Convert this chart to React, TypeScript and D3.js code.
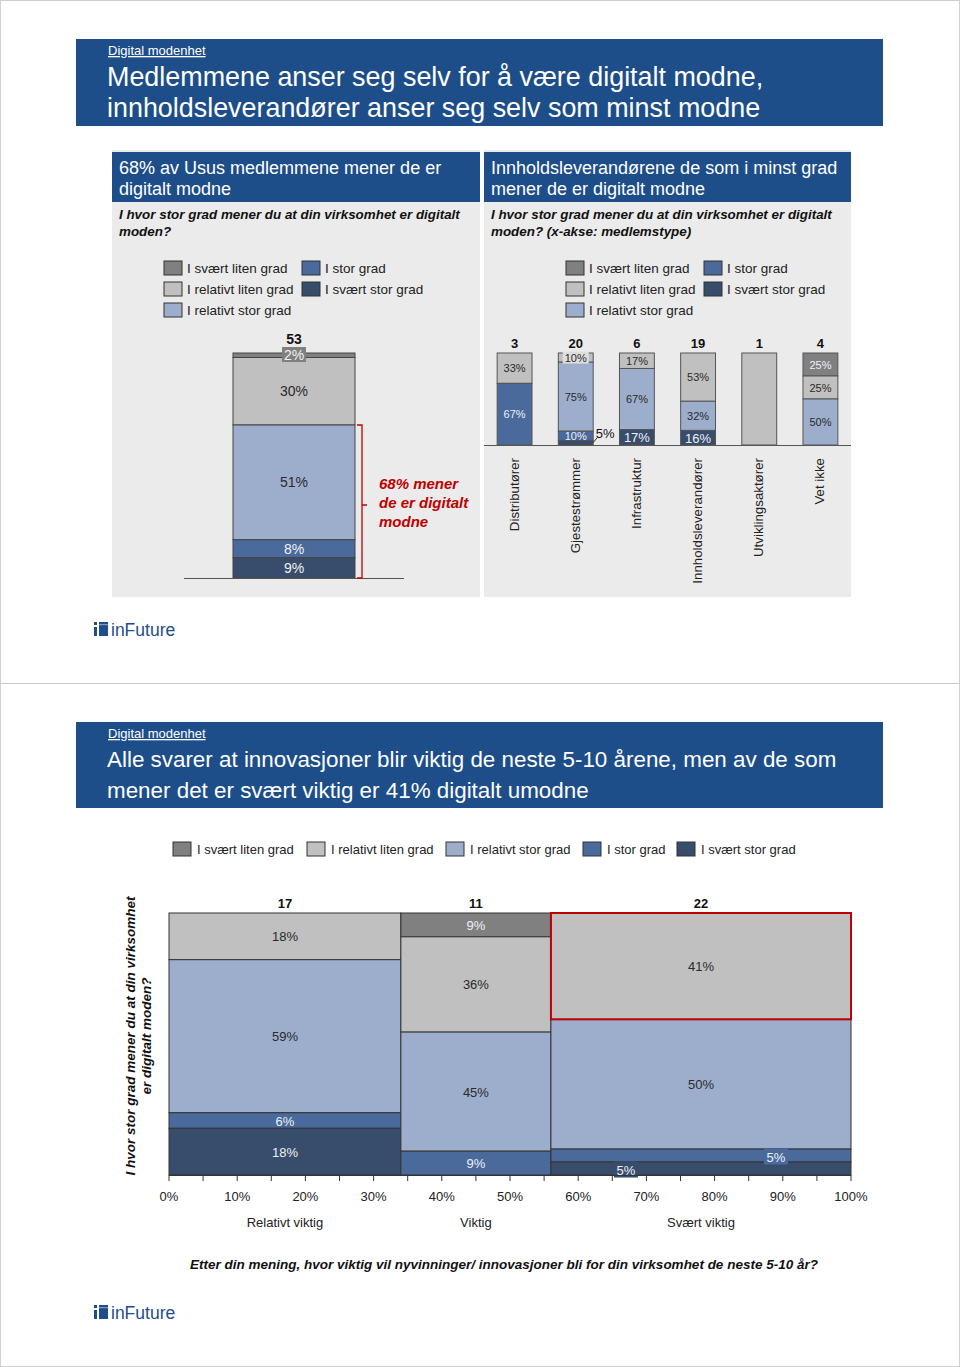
import React from "react";
import * as d3 from "d3";

// ---------- DATA ----------
const levels = ["I svært liten grad", "I relativt liten grad", "I relativt stor grad", "I stor grad", "I svært stor grad"];
const levelColors = ["#808080", "#c0c0c0", "#9daecd", "#4a6a9c", "#384c6c"];

const totalN = 53;
const totalShares = [2, 30, 51, 8, 9];

const memberTypes = ["Distributører", "Gjestestrømmer", "Infrastruktur", "Innholdsleverandører", "Utviklingsaktører", "Vet ikke"];
const memberN = [3, 20, 6, 19, 1, 4];
const memberShares = [
  [0, 33, 0, 67, 0],
  [0, 10, 75, 10, 5],
  [0, 17, 67, 0, 17],
  [0, 53, 32, 0, 16],
  [0, 100, 0, 0, 0],
  [25, 25, 50, 0, 0],
];

const importance = ["Relativt viktig", "Viktig", "Svært viktig"];
const importanceN = [17, 11, 22];
const importanceShares = [
  [0, 18, 59, 6, 18],
  [9, 36, 45, 9, 0],
  [0, 41, 50, 5, 5],
];
const xTicks = [0, 10, 20, 30, 40, 50, 60, 70, 80, 90, 100];

// ---------- STYLE ----------
const FONT = "'Liberation Sans', Arial, Helvetica, sans-serif";
const BLUE = "#1d4e89";
const PANEL = "#ebebeb";
const RED = "#c00000";
const DARK_TEXT = "#2a2a2a";
const lightText = (i: number) => i === 0 || i === 3 || i === 4;

function stackShares(shares: number[]) {
  const sum = d3.sum(shares);
  const out: { i: number; v: number; y0: number; y1: number }[] = [];
  let acc = 0;
  shares.forEach((v, i) => {
    const f = v / sum;
    out.push({ i, v, y0: acc, y1: acc + f });
    acc += f;
  });
  return out;
}

function Logo({ x, y }: { x: number; y: number }) {
  return (
    <g>
      <rect x={x} y={y} width={3} height={3} fill={BLUE} />
      <rect x={x} y={y + 5} width={3} height={9} fill={BLUE} />
      <rect x={x + 5} y={y} width={9} height={14} fill={BLUE} />
      <rect x={x + 5} y={y + 2} width={9} height={1.2} fill="#7f9cc4" />
      <text x={x + 17} y={y + 14} fontFamily={FONT} fontSize={17.5} fill={BLUE}>inFuture</text>
    </g>
  );
}

function Legend2Col({ x1, x2, y }: { x1: number; x2: number; y: number }) {
  const pos = [
    [x1, 0], [x1, 1], [x1, 2], [x2, 0], [x2, 1],
  ];
  return (
    <g>
      {levels.map((l, i) => (
        <g key={l}>
          <rect x={pos[i][0]} y={y + pos[i][1] * 21} width={18} height={14} fill={levelColors[i]} stroke="#333" strokeWidth={1} />
          <text x={pos[i][0] + 23} y={y + pos[i][1] * 21 + 12} fontFamily={FONT} fontSize={13.5} fill="#222">{l}</text>
        </g>
      ))}
    </g>
  );
}

function PanelHeader({ x, w, lines, q }: { x: number; w: number; lines: string[]; q: string[] }) {
  return (
    <g>
      <rect x={x} y={150} width={w} height={447} fill={PANEL} />
      <rect x={x} y={152} width={w} height={50} fill={BLUE} />
      {lines.map((t, k) => (
        <text key={k} x={x + 7} y={174 + k * 21} fontFamily={FONT} fontSize={18} fill="#fff">{t}</text>
      ))}
      {q.map((t, k) => (
        <text key={k} x={x + 7} y={219 + k * 16.5} fontFamily={FONT} fontSize={13.4} fontWeight="bold" fontStyle="italic" fill="#111">{t}</text>
      ))}
    </g>
  );
}

export default function App() {
  const ly = d3.scaleLinear().domain([0, 1]).range([353, 578]);
  const leftBar = stackShares(totalShares);
  const lx0 = 233, lx1 = 355, lcx = (lx0 + lx1) / 2;

  const rx = d3.scaleBand().domain(memberTypes).range([484, 851]).paddingInner(0.43).paddingOuter(0.215);
  const ry = d3.scaleLinear().domain([0, 1]).range([353, 445]);

  const totalImp = d3.sum(importanceN);
  const cum = [0, ...d3.cumsum(importanceN)];
  const mx = d3.scaleLinear().domain([0, 100]).range([169, 851]);
  const my = d3.scaleLinear().domain([0, 1]).range([913, 1175]);
  const colX0 = (c: number) => mx((cum[c] / totalImp) * 100);
  const colX1 = (c: number) => mx((cum[c + 1] / totalImp) * 100);
  const minorTicks = d3.range(0, 101, 5);

  const mekkoSmall: Record<string, { fx: number; dy: number }> = {
    "2-3": { fx: 0.75, dy: 1 },
    "2-4": { fx: 0.25, dy: 1 },
  };

  const legendBottomX = [173, 307, 446, 583, 677];

  return (
    <svg width={960} height={1367} style={{ position: "absolute", left: 0, top: 0 }} fontFamily={FONT}>
      <rect x={0} y={0} width={960} height={1367} fill="#fff" />
      <rect x={0.5} y={0.5} width={959} height={1366} fill="none" stroke="#d0d0d0" />
      <line x1={0} x2={960} y1={683.5} y2={683.5} stroke="#c8c8c8" />

      {/* ===== PAGE 1 ===== */}
      <rect x={76} y={39} width={807} height={87} fill={BLUE} />
      <text x={108} y={55} fontSize={13} fill="#fff" textDecoration="underline">Digital modenhet</text>
      <text x={107} y={86} fontSize={26.9} fill="#fff">Medlemmene anser seg selv for å være digitalt modne,</text>
      <text x={107} y={117} fontSize={26.9} fill="#fff">innholdsleverandører anser seg selv som minst modne</text>

      <PanelHeader x={112} w={368} lines={["68% av Usus medlemmene mener de er", "digitalt modne"]}
        q={["I hvor stor grad mener du at din virksomhet er digitalt", "moden?"]} />
      <PanelHeader x={484} w={367} lines={["Innholdsleverandørene de som i minst grad", "mener de er digitalt modne"]}
        q={["I hvor stor grad mener du at din virksomhet er digitalt", "moden? (x-akse: medlemstype)"]} />

      <Legend2Col x1={164} x2={302} y={261} />
      <Legend2Col x1={566} x2={704} y={261} />

      {/* Left bar */}
      <text x={lcx} y={344} textAnchor="middle" fontSize={14} fontWeight="bold" fill="#111">{totalN}</text>
      {leftBar.filter(s => s.v > 0).map(s => (
        <rect key={s.i} x={lx0} y={ly(s.y0)} width={lx1 - lx0} height={ly(s.y1) - ly(s.y0)} fill={levelColors[s.i]} stroke="#444" strokeWidth={1} />
      ))}
      {leftBar.filter(s => s.v > 0).map(s => {
        const small = s.v < 5;
        const cy = small ? ly(s.y0) + 2 : (ly(s.y0) + ly(s.y1)) / 2;
        return (
          <g key={"l" + s.i}>
            {small && <rect x={lcx - 12} y={cy - 8} width={24} height={15} fill={levelColors[s.i]} />}
            <text x={lcx} y={cy + 5} textAnchor="middle" fontSize={14} fill={lightText(s.i) ? "#f2f2f2" : DARK_TEXT}>{s.v}%</text>
          </g>
        );
      })}
      <line x1={184} x2={404} y1={578.5} y2={578.5} stroke="#555" />
      <path d={`M357,${ly(leftBar[2].y0)} H362 V578 H357 M362,505 H367`} fill="none" stroke={RED} strokeWidth={1.3} />
      {["68% mener", "de er digitalt", "modne"].map((t, k) => (
        <text key={k} x={379} y={489 + k * 19} fontSize={15} fontWeight="bold" fontStyle="italic" fill={RED}>{t}</text>
      ))}

      {/* Right bars */}
      {memberTypes.map((m, b) => {
        const segs = stackShares(memberShares[b]).filter(s => s.v > 0);
        const x0 = rx(m)!, w = rx.bandwidth(), cx = x0 + w / 2;
        return (
          <g key={m}>
            <text x={cx} y={348} textAnchor="middle" fontSize={13} fontWeight="bold" fill="#111">{memberN[b]}</text>
            {segs.map(s => (
              <rect key={s.i} x={x0} y={ry(s.y0)} width={w} height={ry(s.y1) - ry(s.y0)} fill={levelColors[s.i]} stroke="#555" strokeWidth={1} />
            ))}
            {segs.filter(s => s.v < 100).map(s => {
              const h = ry(s.y1) - ry(s.y0);
              const cy = (ry(s.y0) + ry(s.y1)) / 2;
              if (s.v <= 5) {
                return (
                  <g key={"t" + s.i}>
                    <line x1={x0 + w} y1={cy} x2={x0 + w + 4} y2={cy - 5} stroke="#333" />
                    <text x={x0 + w + 12} y={cy - 5} textAnchor="middle" fontSize={13} fill="#111">{s.v}%</text>
                  </g>
                );
              }
              const big = s.i === 4;
              const boxed = h < 11 && !lightText(s.i);
              return (
                <g key={"t" + s.i}>
                  {boxed && <rect x={cx - 13} y={cy - 6} width={26} height={12} fill="#dedede" />}
                  <text x={cx} y={cy + (big ? 5 : 4)} textAnchor="middle" fontSize={big ? 13 : 11} fill={lightText(s.i) ? "#eef1f6" : DARK_TEXT}>{s.v}%</text>
                </g>
              );
            })}
            <text transform={`translate(${cx + 4},458) rotate(-90)`} textAnchor="end" fontSize={13.3} fill="#222">{m}</text>
          </g>
        );
      })}
      <line x1={484} x2={851} y1={445.5} y2={445.5} stroke="#555" />

      <Logo x={94} y={622} />

      {/* ===== PAGE 2 ===== */}
      <rect x={76} y={722} width={807} height={86} fill={BLUE} />
      <text x={108} y={738} fontSize={13} fill="#fff" textDecoration="underline">Digital modenhet</text>
      <text x={107} y={767} fontSize={22.4} fill="#fff">Alle svarer at innovasjoner blir viktig de neste 5-10 årene, men av de som</text>
      <text x={107} y={798} fontSize={22.4} fill="#fff">mener det er svært viktig er 41% digitalt umodne</text>

      {levels.map((l, i) => (
        <g key={l}>
          <rect x={legendBottomX[i]} y={842} width={18} height={14} fill={levelColors[i]} stroke="#333" />
          <text x={legendBottomX[i] + 24} y={854} fontSize={13} fill="#222">{l}</text>
        </g>
      ))}

      {/* Mekko */}
      {importance.map((imp, c) => {
        const x0 = colX0(c), x1 = colX1(c), cx = (x0 + x1) / 2;
        const segs = stackShares(importanceShares[c]).filter(s => s.v > 0);
        return (
          <g key={imp}>
            <text x={cx} y={908} textAnchor="middle" fontSize={13} fontWeight="bold" fill="#111">{importanceN[c]}</text>
            {segs.map(s => (
              <rect key={s.i} x={x0} y={my(s.y0)} width={x1 - x0} height={my(s.y1) - my(s.y0)} fill={levelColors[s.i]} stroke="#333" strokeWidth={1} />
            ))}
            <text x={cx} y={1227} textAnchor="middle" fontSize={13} fill="#222">{imp}</text>
          </g>
        );
      })}
      {importance.map((imp, c) => {
        const x0 = colX0(c), x1 = colX1(c);
        const segs = stackShares(importanceShares[c]).filter(s => s.v > 0);
        return (
          <g key={"lab" + imp}>
            {segs.map(s => {
              const sm = mekkoSmall[`${c}-${s.i}`];
              const cx = sm ? x0 + (x1 - x0) * sm.fx : (x0 + x1) / 2;
              const cy = (my(s.y0) + my(s.y1)) / 2 + (sm ? sm.dy : 0);
              return (
                <g key={s.i}>
                  {sm && <rect x={cx - 12} y={cy - 8} width={24} height={16} fill={levelColors[s.i]} />}
                  <text x={cx} y={cy + 5} textAnchor="middle" fontSize={13} fill={lightText(s.i) ? "#eef1f6" : DARK_TEXT}>{s.v}%</text>
                </g>
              );
            })}
          </g>
        );
      })}
      {(() => {
        const segs = stackShares(importanceShares[2]);
        const s = segs[1];
        return <rect x={colX0(2)} y={my(s.y0)} width={colX1(2) - colX0(2)} height={my(s.y1) - my(s.y0)} fill="none" stroke={RED} strokeWidth={2} />;
      })()}
      <line x1={169} x2={851} y1={1175.5} y2={1175.5} stroke="#333" />
      {minorTicks.map(t => (
        <line key={t} x1={mx(t)} x2={mx(t)} y1={1175} y2={1181} stroke="#333" />
      ))}
      {xTicks.map(t => (
        <text key={t} x={mx(t)} y={1201} textAnchor="middle" fontSize={13} fill="#222">{t}%</text>
      ))}
      <g transform="translate(135,1036) rotate(-90)">
        <text x={0} y={0} textAnchor="middle" fontSize={13.5} fontWeight="bold" fontStyle="italic" fill="#111">I hvor stor grad mener du at din virksomhet</text>
        <text x={0} y={16} textAnchor="middle" fontSize={13.5} fontWeight="bold" fontStyle="italic" fill="#111">er digitalt moden?</text>
      </g>
      <text x={504} y={1269} textAnchor="middle" fontSize={13.5} fontWeight="bold" fontStyle="italic" fill="#111">Etter din mening, hvor viktig vil nyvinninger/ innovasjoner bli for din virksomhet de neste 5-10 år?</text>

      <Logo x={94} y={1305} />
    </svg>
  );
}
